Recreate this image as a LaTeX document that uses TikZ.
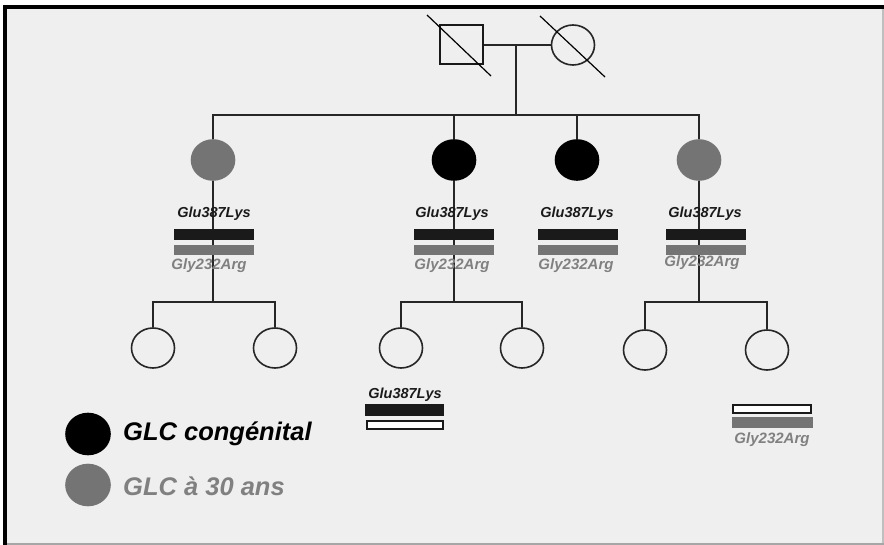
\documentclass[tikz,border=0pt]{standalone}
\usepackage{fontspec}
\setmainfont{Liberation Sans}
\usetikzlibrary{shapes.geometric}
\definecolor{bgpaper}{HTML}{EFEFEF}
\definecolor{affgray}{HTML}{747474}
\definecolor{barblack}{HTML}{1A1A1A}
\definecolor{txtgray}{HTML}{808080}

\begin{document}
\begin{tikzpicture}[
  x=1pt, y=-1pt,
  line/.style={line width=1.6pt, draw=black!85},
  person/.style={ellipse, draw=black!85, line width=1.6pt, minimum width=43pt, minimum height=40pt, inner sep=0pt},
  male/.style={rectangle, draw=black!90, line width=2pt, minimum width=43pt, minimum height=39pt, inner sep=0pt},
  congen/.style={person, fill=black, draw=black},
  late/.style={person, fill=affgray, draw=affgray},
  blackbar/.style={rectangle, fill=barblack, minimum width=80pt, minimum height=11pt, inner sep=0pt},
  graybar/.style={rectangle, fill=affgray, minimum width=80pt, minimum height=10pt, inner sep=0pt},
  whitebar/.style={rectangle, fill=white, draw=barblack, line width=1.5pt, minimum width=76pt, minimum height=8pt, inner sep=0pt},
  mut/.style={font=\fontsize{14.5}{16}\selectfont\bfseries\itshape, text=barblack, inner sep=0pt},
  mutgray/.style={font=\fontsize{15}{17}\selectfont\bfseries\itshape, text=txtgray, inner sep=0pt},
  legend/.style={font=\fontsize{25.5}{28}\selectfont\bfseries\itshape, anchor=west, inner sep=0pt}
]
% frame
\useasboundingbox (0,0) rectangle (884,545);
\fill[bgpaper] (5,7) rectangle (884,545);
\draw[line width=4pt, black] (3,7) -- (884,7);
\draw[line width=4pt, black] (5,5) -- (5,545);
\draw[line width=2pt, black!25] (883,9) -- (883,545);
\draw[line width=2pt, black!35] (7,544) -- (884,544);

% parents
\node[male] (father) at (461,45) {};
\node[person] (mother) at (573,45) {};
\coordinate (fx1) at (427,15);
\coordinate (fx2) at (491,76);
\coordinate (mx1) at (540,16);
\coordinate (mx2) at (605,77);
\draw[line width=1.2pt] (fx1) -- (fx2);
\draw[line width=1.2pt] (mx1) -- (mx2);
\coordinate (union) at (516,45);
\coordinate (sib) at (516,115);
\draw[line] (father) -- (mother);
\draw[line] (union) -- (sib);

% children
\node[late] (c1) at (213,160) {};
\node[congen] (c2) at (454,160) {};
\node[congen] (c3) at (577,160) {};
\node[late] (c4) at (699,160) {};
\draw[line] (c1) -- (c1 |- sib) -- (c4 |- sib) -- (c4);
\draw[line] (c2) -- (c2 |- sib);
\draw[line] (c3) -- (c3 |- sib);

% grandchildren
\coordinate (g1) at (213,302);
\coordinate (g2) at (454,302);
\coordinate (g4) at (699,302);
\draw[line] (c1) -- (g1);
\draw[line] (c2) -- (g2);
\draw[line] (c4) -- (g4);
\node[person] (gc11) at (153,348) {};
\node[person] (gc12) at (275,348) {};
\node[person] (gc21) at (401,348) {};
\node[person] (gc22) at (522,348) {};
\node[person] (gc41) at (645,350) {};
\node[person] (gc42) at (767,350) {};
\draw[line] (gc11) -- (gc11 |- g1) -| (gc12);
\draw[line] (gc21) -- (gc21 |- g2) -| (gc22);
\draw[line] (gc41) -- (gc41 |- g4) -| (gc42);

% alleles
\node[blackbar] (b1a) at (213.5,234.5) {};
\node[graybar] (b1b) at (213.5,250) {};
\node[mut] (t1a) at (214,214) {Glu387Lys};
\node[mutgray] (t1b) at (209,266) {Gly232Arg};

\node[blackbar] (b2a) at (453.5,234.5) {};
\node[graybar] (b2b) at (453.5,250) {};
\node[mut] (t2a) at (452,214) {Glu387Lys};
\node[mutgray] (t2b) at (452,266) {Gly232Arg};

\node[blackbar] (b3a) at (578,234.5) {};
\node[graybar] (b3b) at (578,250) {};
\node[mut] (t3a) at (577,214) {Glu387Lys};
\node[mutgray] (t3b) at (576,266) {Gly232Arg};

\node[blackbar] (b4a) at (705.5,234.5) {};
\node[graybar] (b4b) at (705.5,250) {};
\node[mut] (t4a) at (705,214) {Glu387Lys};
\node[mutgray] (t4b) at (702,263) {Gly232Arg};

\node[mut] (t21a) at (405,395) {Glu387Lys};
\node[blackbar, minimum width=79pt, minimum height=12pt] (b21a) at (404.5,410) {};
\node[whitebar] (b21b) at (405,425) {};

\node[whitebar, minimum width=78pt] (b42a) at (772,409) {};
\node[graybar, minimum width=81pt, minimum height=11pt] (b42b) at (772.5,422.5) {};
\node[mutgray] (t42b) at (772,440) {Gly232Arg};

% legend
\node[congen, minimum width=44pt, minimum height=41pt] (keyblack) at (88,434) {};
\node[legend] (keyblacktxt) at (123,434) {GLC congénital};
\node[late, minimum width=44pt, minimum height=41pt] (keygray) at (88,485) {};
\node[legend, text=txtgray] (keygraytxt) at (123,486) {GLC à 30 ans};
\end{tikzpicture}
\end{document}
